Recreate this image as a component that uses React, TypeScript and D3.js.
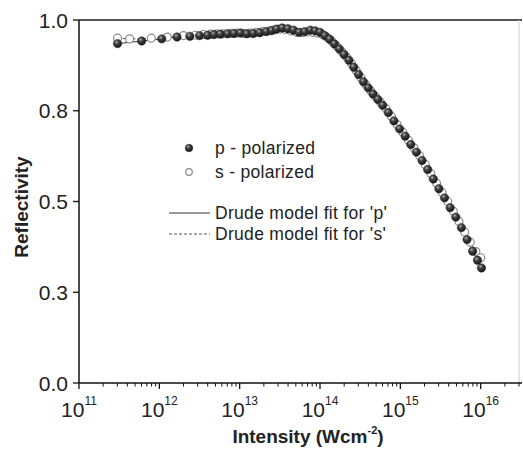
import React from "react";
import * as d3 from "d3";

const pLogI = [11.48, 11.78, 12.03, 12.22, 12.38, 12.5, 12.6, 12.68, 12.76, 12.85, 12.93, 13.01, 13.09, 13.17, 13.25, 13.33, 13.4, 13.46, 13.53, 13.6, 13.67, 13.74, 13.81, 13.88, 13.94, 14.0, 14.06, 14.12, 14.18, 14.24, 14.3, 14.36, 14.42, 14.48, 14.54, 14.6, 14.66, 14.72, 14.78, 14.85, 14.92, 14.99, 15.06, 15.13, 15.2, 15.27, 15.34, 15.41, 15.48, 15.55, 15.62, 15.69, 15.76, 15.83, 15.9, 15.96, 16.01];
const pR = [0.935, 0.942, 0.948, 0.953, 0.955, 0.957, 0.958, 0.96, 0.961, 0.962, 0.963, 0.964, 0.962, 0.963, 0.965, 0.968, 0.971, 0.975, 0.978, 0.976, 0.972, 0.966, 0.968, 0.972, 0.97, 0.966, 0.957, 0.947, 0.934, 0.92, 0.905, 0.889, 0.87, 0.85, 0.83, 0.813, 0.796, 0.781, 0.765, 0.745, 0.722, 0.7, 0.68, 0.657, 0.636, 0.613, 0.588, 0.562, 0.535, 0.51, 0.483, 0.457, 0.428, 0.395, 0.363, 0.338, 0.317];

const sLogI = [11.48, 11.63, 11.9, 12.1, 12.3, 12.45, 12.55, 12.64, 12.72, 12.8, 12.89, 12.97, 13.05, 13.13, 13.21, 13.29, 13.37, 13.44, 13.5, 13.57, 13.64, 13.71, 13.78, 13.85, 13.91, 13.97, 14.03, 14.09, 14.15, 14.21, 14.27, 14.33, 14.39, 14.45, 14.51, 14.57, 14.63, 14.69, 14.75, 14.82, 14.89, 14.96, 15.03, 15.1, 15.17, 15.24, 15.31, 15.38, 15.45, 15.52, 15.59, 15.66, 15.73, 15.8, 15.87, 15.94, 16.0];
const sR = [0.95, 0.948, 0.95, 0.953, 0.957, 0.958, 0.96, 0.961, 0.962, 0.962, 0.963, 0.964, 0.963, 0.964, 0.966, 0.968, 0.97, 0.973, 0.975, 0.974, 0.97, 0.966, 0.965, 0.967, 0.966, 0.964, 0.96, 0.952, 0.941, 0.928, 0.913, 0.898, 0.88, 0.861, 0.841, 0.822, 0.805, 0.789, 0.774, 0.756, 0.734, 0.712, 0.691, 0.669, 0.648, 0.626, 0.602, 0.577, 0.551, 0.525, 0.5, 0.473, 0.445, 0.416, 0.388, 0.362, 0.345];

const yTickValues = [0, 0.25, 0.5, 0.75, 1.0];
const yTickLabels = ["0.0", "0.3", "0.5", "0.8", "1.0"];
const xDecades = [11, 12, 13, 14, 15, 16];
const legendLabels = ["p - polarized", "s - polarized", "Drude model fit for 'p'", "Drude model fit for 's'"];

const W = 523;
const H = 462;
const left = 79;
const right = 519;
const top = 20;
const bottom = 383;
const FONT = "'Liberation Sans', Arial, Helvetica, sans-serif";

export default function App() {
  const x = d3.scaleLog().domain([1e11, 3e16]).range([left, right]);
  const y = d3.scaleLinear().domain([0, 1]).range([bottom, top]);

  const pData = pLogI.map((l, i) => ({ I: Math.pow(10, l), R: pR[i] }));
  const sData = sLogI.map((l, i) => ({ I: Math.pow(10, l), R: sR[i] }));

  const line = d3
    .line<{ I: number; R: number }>()
    .x((d) => x(d.I))
    .y((d) => y(d.R))
    .curve(d3.curveMonotoneX);

  const minorTicks: number[] = [];
  for (let dec = 11; dec <= 16; dec++) {
    for (let m = 2; m <= 9; m++) {
      const v = m * Math.pow(10, dec);
      if (v <= 3e16) minorTicks.push(v);
    }
  }

  return (
    <svg
      width={W}
      height={H}
      style={{ position: "absolute", left: 0, top: 0, background: "#fff" }}
      fontFamily={FONT}
    >
      <defs>
        <radialGradient id="ball" cx="0.38" cy="0.32" r="0.7">
          <stop offset="0" stopColor="#b0b0b0" />
          <stop offset="0.35" stopColor="#444" />
          <stop offset="1" stopColor="#111" />
        </radialGradient>
      </defs>
      <rect x={0} y={0} width={W} height={H} fill="#fff" />

      {/* frame */}
      <line x1={left} x2={right + 3} y1={top} y2={top} stroke="#555" strokeWidth={2} />
      <line x1={right} x2={right} y1={top} y2={bottom} stroke="#ccc" strokeWidth={1} />

      {/* fit lines */}
      <path d={line(sData) || ""} fill="none" stroke="#555" strokeWidth={1} strokeDasharray="3,2" />
      <path d={line(pData) || ""} fill="none" stroke="#333" strokeWidth={1} />

      {/* s markers */}
      {sData.map((d, i) => (
        <circle key={"s" + i} cx={x(d.I)} cy={y(d.R)} r={4} fill="#fff" stroke="#8a8a8a" strokeWidth={1.2} />
      ))}
      {/* p markers */}
      {pData.map((d, i) => (
        <circle key={"p" + i} cx={x(d.I)} cy={y(d.R)} r={4.2} fill="url(#ball)" stroke="#222" strokeWidth={0.5} />
      ))}

      {/* axes */}
      <line x1={left} x2={left} y1={top} y2={bottom} stroke="#111" strokeWidth={1.5} />
      <line x1={left} x2={right + 3} y1={bottom} y2={bottom} stroke="#111" strokeWidth={1.5} />

      {yTickValues.map((v, i) => (
        <g key={"yt" + i}>
          <line x1={left - 6} x2={left} y1={y(v)} y2={y(v)} stroke="#111" strokeWidth={1.3} />
          <text x={68} y={y(v) + 7.5} textAnchor="end" fontSize={21} fill="#222">
            {yTickLabels[i]}
          </text>
        </g>
      ))}

      {minorTicks.map((v, i) => (
        <line key={"mt" + i} x1={x(v)} x2={x(v)} y1={bottom} y2={bottom + 3.5} stroke="#111" strokeWidth={1} />
      ))}
      {xDecades.map((d) => (
        <g key={"xd" + d}>
          <line x1={x(Math.pow(10, d))} x2={x(Math.pow(10, d))} y1={bottom} y2={bottom + 6} stroke="#111" strokeWidth={1.3} />
          <text x={x(Math.pow(10, d))} y={417} textAnchor="middle" fontSize={21} fill="#222">
            10
            <tspan fontSize={12} dy={-12}>
              {String(d)}
            </tspan>
          </text>
        </g>
      ))}

      {/* axis titles */}
      <text
        transform={`translate(28, 207) rotate(-90)`}
        textAnchor="middle"
        fontSize={19}
        fontWeight="bold"
        fill="#222"
      >
        Reflectivity
      </text>
      <text x={308} y={443} textAnchor="middle" fontSize={19} fontWeight="bold" fill="#222">
        Intensity (Wcm
        <tspan fontSize={11} dy={-9}>-2</tspan>
        <tspan dy={9}>)</tspan>
      </text>

      {/* legend */}
      <g fontSize={17.5} letterSpacing={0.3} fill="#222">
        <circle cx={189} cy={148} r={3.8} fill="url(#ball)" stroke="#222" strokeWidth={0.5} />
        <text x={215} y={154}>{legendLabels[0]}</text>
        <circle cx={189} cy={172} r={3.3} fill="#fff" stroke="#8a8a8a" strokeWidth={1.2} />
        <text x={215} y={178}>{legendLabels[1]}</text>
        <line x1={169} x2={210} y1={213} y2={213} stroke="#333" strokeWidth={1} />
        <text x={215} y={219}>{legendLabels[2]}</text>
        <line x1={169} x2={210} y1={234} y2={234} stroke="#555" strokeWidth={1} strokeDasharray="3,2" />
        <text x={215} y={240}>{legendLabels[3]}</text>
      </g>
    </svg>
  );
}
